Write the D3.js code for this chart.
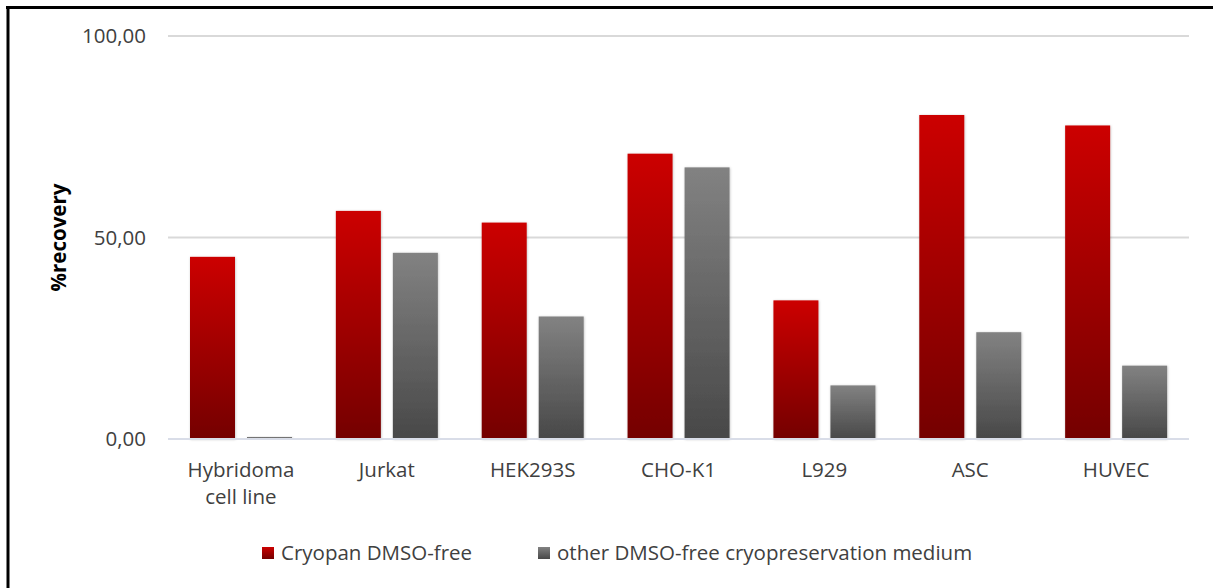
<!DOCTYPE html>
<html>
<head>
<meta charset="utf-8">
<script src="https://cdn.jsdelivr.net/npm/d3@7"></script>
<style>
  body { margin: 0; background: #fff; }
  svg { display: block; font-family: "Open Sans", "Liberation Sans", sans-serif; }
</style>
</head>
<body>
<svg id="chart"></svg>
<script>
const categories = [['Hybridoma', 'cell line'], ['Jurkat'], ['HEK293S'], ['CHO-K1'], ['L929'], ['ASC'], ['HUVEC']];
const seriesNames = ['Cryopan DMSO-free', 'other DMSO-free cryopreservation medium'];
const cryopan = [45.2, 56.6, 53.7, 70.8, 34.4, 80.4, 77.8];
const other = [0.5, 46.2, 30.4, 67.4, 13.3, 26.5, 18.2];
const yTicks = [0, 50, 100];

const width = 1213;
const height = 588;
const margin = { top: 36, right: 24, bottom: 149, left: 168 };
const fontSize = 20.5;

const svg = d3.select('#chart')
  .attr('width', width)
  .attr('height', height);

const defs = svg.append('defs');
const gradStops = [
  ['redGrad', '#cc0000', '#740000'],
  ['grayGrad', '#828282', '#484848']
];
gradStops.forEach(([id, top, bottom]) => {
  const g = defs.append('linearGradient')
    .attr('id', id)
    .attr('x1', 0).attr('y1', 0).attr('x2', 0).attr('y2', 1);
  g.append('stop').attr('offset', '0%').attr('stop-color', top);
  g.append('stop').attr('offset', '100%').attr('stop-color', bottom);
});
const shadow = defs.append('filter').attr('id', 'shadow')
  .attr('x', '-20%').attr('y', '-5%').attr('width', '140%').attr('height', '110%');
shadow.append('feDropShadow')
  .attr('dx', 0.5).attr('dy', 0.5).attr('stdDeviation', 1)
  .attr('flood-color', '#000').attr('flood-opacity', 0.25);

// frame lines
svg.append('line').attr('x1', 6).attr('x2', width).attr('y1', 7.5).attr('y2', 7.5)
  .attr('stroke', '#000').attr('stroke-width', 3);
svg.append('line').attr('x1', 8).attr('x2', 8).attr('y1', 6).attr('y2', height)
  .attr('stroke', '#000').attr('stroke-width', 3);

const x = d3.scaleBand()
  .domain(d3.range(categories.length))
  .range([margin.left, width - margin.right]);

const y = d3.scaleLinear()
  .domain([0, 100])
  .range([height - margin.bottom, margin.top]);

const fmt = v => d3.format('.2f')(v).replace('.', ',');

// grid
svg.append('g')
  .selectAll('line')
  .data(yTicks.filter(d => d > 0))
  .enter()
  .append('line')
  .attr('x1', margin.left)
  .attr('x2', width - margin.right)
  .attr('y1', d => y(d))
  .attr('y2', d => y(d))
  .attr('stroke', '#d9d9d9')
  .attr('stroke-width', 2);

// y axis labels
const yAxis = d3.axisLeft(y).tickValues(yTicks).tickFormat(fmt).tickSize(0).tickPadding(22);
svg.append('g')
  .attr('transform', `translate(${margin.left},0)`)
  .call(yAxis)
  .call(g => g.select('.domain').remove())
  .selectAll('text')
  .attr('font-size', fontSize)
  .attr('fill', '#404040')
  .attr('font-family', '"Open Sans", sans-serif');

svg.append('text')
  .attr('transform', `translate(66,${y(50)}) rotate(-90)`)
  .attr('text-anchor', 'middle')
  .attr('font-size', fontSize)
  .attr('font-weight', 'bold')
  .attr('fill', '#000')
  .text('%recovery');

// bars
const groupOffset = 22;
const barW = 45;
const barGap = 12;
const seriesData = [cryopan, other];
const fills = ['url(#redGrad)', 'url(#grayGrad)'];

seriesData.forEach((vals, s) => {
  svg.append('g')
    .selectAll('rect')
    .data(vals)
    .enter()
    .append('rect')
    .attr('x', (d, i) => x(i) + groupOffset + s * (barW + barGap))
    .attr('y', d => y(d))
    .attr('width', barW)
    .attr('height', d => y(0) - y(d))
    .attr('fill', fills[s])
    .attr('filter', 'url(#shadow)');
});

// baseline
svg.append('line')
  .attr('x1', margin.left)
  .attr('x2', width - margin.right)
  .attr('y1', y(0))
  .attr('y2', y(0))
  .attr('stroke', '#d9dde8')
  .attr('stroke-width', 2);

// category labels, one text per line
const catG = svg.append('g');
categories.forEach((lines, i) => {
  lines.forEach((ln, j) => {
    catG.append('text')
      .attr('x', x(i) + x.bandwidth() / 2)
      .attr('y', 477 + j * 27)
      .attr('text-anchor', 'middle')
      .attr('font-size', fontSize)
      .attr('fill', '#404040')
      .text(ln);
  });
});

// legend
const legendX = [262, 538];
seriesNames.forEach((name, s) => {
  const g = svg.append('g').attr('transform', `translate(${legendX[s]},547)`);
  g.append('rect')
    .attr('width', 12)
    .attr('height', 12)
    .attr('fill', fills[s]);
  g.append('text')
    .attr('x', 19)
    .attr('y', 13)
    .attr('font-size', fontSize)
    .attr('fill', '#404040')
    .text(name);
});
</script>
</body>
</html>
